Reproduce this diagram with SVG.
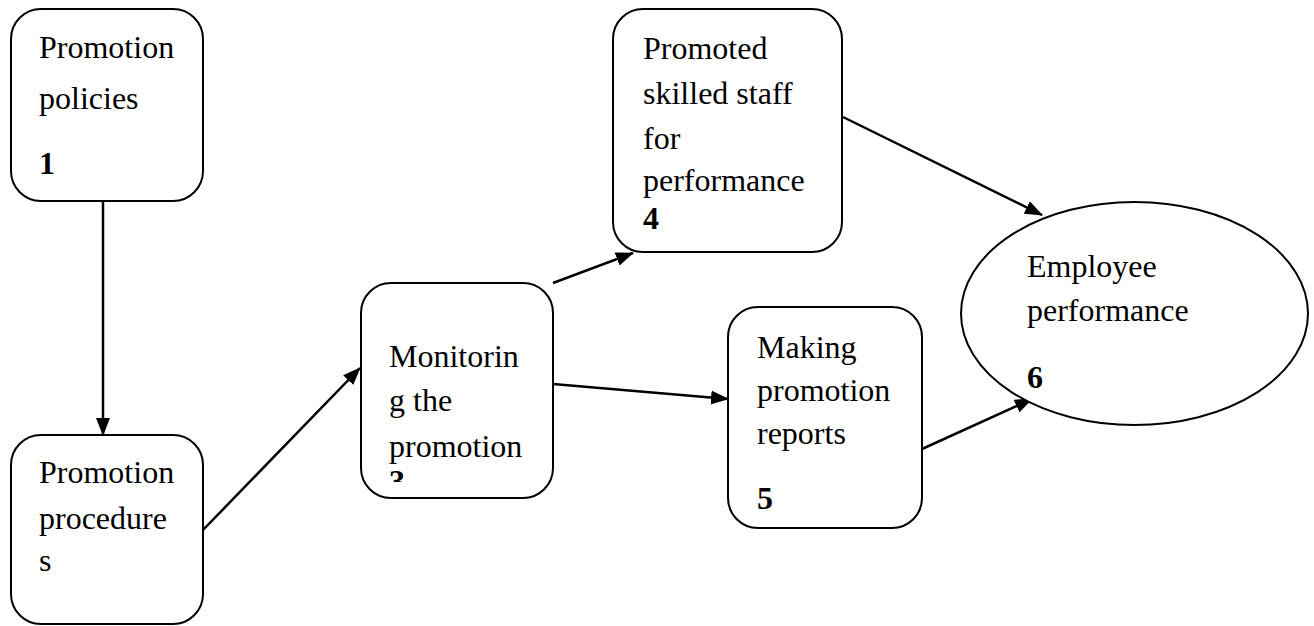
<svg xmlns="http://www.w3.org/2000/svg" width="1314" height="626" viewBox="0 0 1314 626">
<style>
.box{fill:#fff;stroke:#000;stroke-width:2}
.t{font-family:"Liberation Serif","Times New Roman",serif;font-size:32px;fill:#000}
.b{font-weight:bold}
.c{stroke:#000;stroke-width:2.5;fill:none;marker-end:url(#ah)}
</style>
<defs>
<marker id="ah" markerWidth="18" markerHeight="14" refX="17" refY="7" orient="auto" markerUnits="userSpaceOnUse">
<path d="M0,0 L18,7 L0,14 Z" fill="#000"/>
</marker>
<clipPath id="clip3"><rect x="361" y="283" width="192" height="199"/></clipPath>
</defs>
<rect width="1314" height="626" fill="#fff"/>
<g id="connectors">
<line class="c" x1="103" y1="201" x2="103" y2="435"/>
<line class="c" x1="203" y1="530" x2="360" y2="368"/>
<line class="c" x1="553" y1="283" x2="633" y2="253"/>
<line class="c" x1="553" y1="384" x2="728" y2="399"/>
<line class="c" x1="843" y1="117" x2="1042" y2="215"/>
<line class="c" x1="922" y1="449" x2="1032" y2="399"/>
</g>
<g id="node1">
<rect class="box" x="11" y="9" width="192" height="192" rx="30"/>
<text class="t" x="39" y="58">Promotion</text>
<text class="t" x="39" y="109">policies</text>
<text class="t b" x="39" y="174">1</text>
</g>
<g id="node2">
<rect class="box" x="11" y="435" width="192" height="189" rx="30"/>
<text class="t" x="39" y="483">Promotion</text>
<text class="t" x="39" y="529">procedure</text>
<text class="t" x="39" y="571">s</text>
</g>
<g id="node3">
<rect class="box" x="361" y="283" width="192" height="215" rx="30"/>
<text class="t" x="389" y="367">Monitorin</text>
<text class="t" x="389" y="411">g the</text>
<text class="t" x="389" y="457">promotion</text>
<text class="t b" x="389" y="492" clip-path="url(#clip3)">3</text>
</g>
<g id="node4">
<rect class="box" x="613" y="9" width="229" height="243" rx="30"/>
<text class="t" x="643" y="59">Promoted</text>
<text class="t" x="643" y="104">skilled staff</text>
<text class="t" x="643" y="149">for</text>
<text class="t" x="643" y="191">performance</text>
<text class="t b" x="643" y="229">4</text>
</g>
<g id="node5">
<rect class="box" x="728" y="307" width="194" height="221" rx="30"/>
<text class="t" x="757" y="358">Making</text>
<text class="t" x="757" y="401">promotion</text>
<text class="t" x="757" y="444">reports</text>
<text class="t b" x="757" y="509">5</text>
</g>
<g id="node6">
<ellipse class="box" cx="1134.5" cy="313.5" rx="173.5" ry="111.5" stroke-width="1.5"/>
<text class="t" x="1027" y="277">Employee</text>
<text class="t" x="1027" y="321">performance</text>
<text class="t b" x="1027" y="388">6</text>
</g>
</svg>
